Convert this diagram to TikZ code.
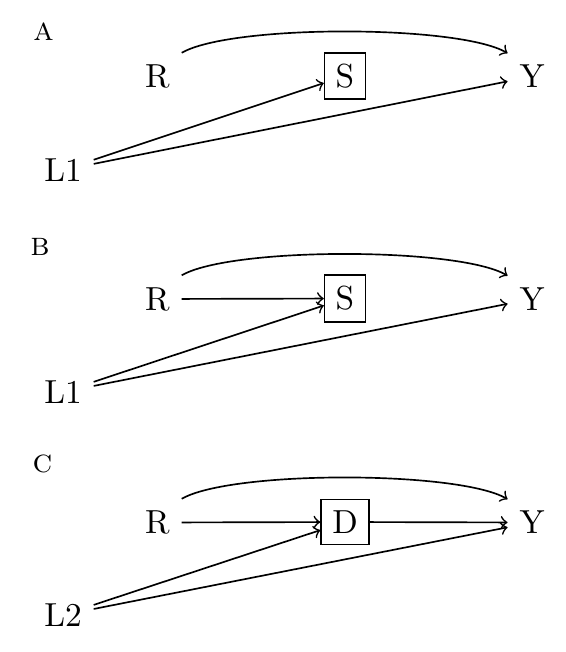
\documentclass[tikz,border=0pt]{standalone}
\begin{document}
\begin{tikzpicture}[x=0.3pt,y=-0.3pt,line width=0.5pt,
  var/.style={inner sep=0.333em},
  boxed/.style={draw,inner sep=0.333em},
  panel/.style={inner sep=0pt},
  arr/.style={->},
  arc/.style={->,out=30,in=150,looseness=0.45}]
\useasboundingbox (0,0) rectangle (565,652);
% Panel A
\node[panel] (la) at (43.5,32) {\textsc{a}};
\node[var] (Ra) at (157.5,76.5) {R};
\node[boxed] (Sa) at (345,76) {S};
\node[var] (Ya) at (532,76.5) {Y};
\node[var] (La) at (63,170) {L1};
\draw[arc] (Ra.north east) to (Ya.north west);
\draw[arr] (La) -- (Sa);
\draw[arr] (La) -- (Ya);
% Panel B
\node[panel] (lb) at (40,246.5) {\textsc{b}};
\node[var] (Rb) at (157.5,299) {R};
\node[boxed] (Sb) at (345,298.5) {S};
\node[var] (Yb) at (532,299) {Y};
\node[var] (Lb) at (63,392) {L1};
\draw[arc] (Rb.north east) to (Yb.north west);
\draw[arr] (Rb) -- (Sb);
\draw[arr] (Lb) -- (Sb);
\draw[arr] (Lb) -- (Yb);
% Panel C
\node[panel] (lc) at (42.5,464) {\textsc{c}};
\node[var] (Rc) at (157.5,522.5) {R};
\node[boxed] (Dc) at (345,522) {D};
\node[var] (Yc) at (532,522.5) {Y};
\node[var] (Lc) at (63,615) {L2};
\draw[arc] (Rc.north east) to (Yc.north west);
\draw[arr] (Rc) -- (Dc);
\draw[arr] (Dc) -- (Yc);
\draw[arr] (Lc) -- (Dc);
\draw[arr] (Lc) -- (Yc);
\end{tikzpicture}
\end{document}
